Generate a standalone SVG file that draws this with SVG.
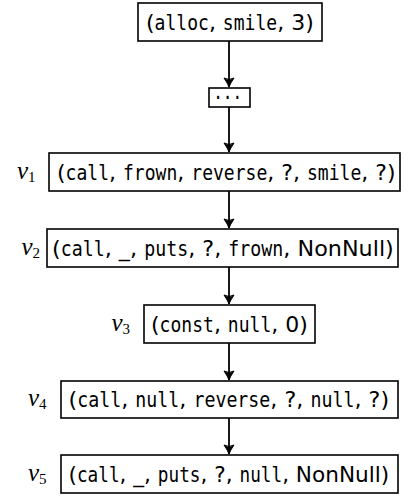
<svg xmlns="http://www.w3.org/2000/svg" width="409" height="498" viewBox="0 0 409 498">
<style>
.box{fill:#fff;stroke:#000;stroke-width:1.6}
.t{font-family:"DejaVu Sans","Liberation Sans",sans-serif;font-size:22px;fill:#000}
.tt{font-family:"DejaVu Sans Mono","Liberation Mono",monospace;font-size:22px;fill:#000}
.lab{font-family:"Liberation Serif","DejaVu Serif",serif;font-size:25px;font-style:italic;fill:#000}
.sub{font-style:normal;font-size:15px}
.edge{stroke:#000;stroke-width:1.8;fill:none;marker-end:url(#arr)}
</style>
<defs>
<marker id="arr" viewBox="-10 -6 11 12" refX="0" refY="0" markerWidth="11" markerHeight="12" markerUnits="userSpaceOnUse" orient="auto">
<path d="M-9,-5 Q-3.5,-1.2 0,0 Q-3.5,1.2 -9,5 Q-6,0 -9,-5 Z" fill="#000" stroke="#000" stroke-width="1" stroke-linejoin="round"/>
</marker>
</defs>
<g id="connectors">
<line class="edge" x1="229" y1="41" x2="229" y2="87"/>
<line class="edge" x1="229" y1="107" x2="229" y2="152"/>
<line class="edge" x1="229" y1="191" x2="229" y2="228"/>
<line class="edge" x1="229" y1="267" x2="229" y2="304"/>
<line class="edge" x1="229" y1="343" x2="229" y2="380"/>
<line class="edge" x1="229" y1="418" x2="229" y2="454"/>
</g>
<g id="n0">
<rect class="box" x="138" y="3" width="184" height="38"/>
<g transform="translate(146,29.5)">
<text class="t" x="0">(</text>
<text class="tt" transform="translate(8.58,0) scale(0.82,1)">alloc</text>
<text class="t" x="62.88">, </text>
<text class="tt" transform="translate(76.87,0) scale(0.82,1)">smile</text>
<text class="t" x="131.17">, 3)</text>
</g>
</g>
<g id="ndots">
<rect class="box" x="209" y="88" width="41" height="19"/>
<text class="tt" transform="translate(213.2,105) scale(0.73,1)">···</text>
</g>
<g id="v1">
<text class="lab" x="17" y="179">v<tspan class="sub" dy="3">1</tspan></text>
<rect class="box" x="49" y="153" width="351" height="38"/>
<g transform="translate(57,179.5)">
<text class="t" x="0">(</text>
<text class="tt" transform="translate(8.58,0) scale(0.82,1)">call</text>
<text class="t" x="52.02">, </text>
<text class="tt" transform="translate(66.01,0) scale(0.82,1)">frown</text>
<text class="t" x="120.31">, </text>
<text class="tt" transform="translate(134.3,0) scale(0.82,1)">reverse</text>
<text class="t" x="210.32">, ?, </text>
<text class="tt" transform="translate(249.99,0) scale(0.82,1)">smile</text>
<text class="t" x="304.29">, ?)</text>
</g>
</g>
<g id="v2">
<text class="lab" x="21.5" y="255">v<tspan class="sub" dy="3">2</tspan></text>
<rect class="box" x="47" y="229" width="351" height="38"/>
<g transform="translate(52,255.5) scale(1.013,1)">
<text class="t" x="0">(</text>
<text class="tt" transform="translate(8.58,0) scale(0.82,1)">call</text>
<text class="t" x="52.02">, _, </text>
<text class="tt" transform="translate(91,0) scale(0.82,1)">puts</text>
<text class="t" x="134.44">, ?, </text>
<text class="tt" transform="translate(174.11,0) scale(0.82,1)">frown</text>
<text class="t" x="228.41">, NonNull)</text>
</g>
</g>
<g id="v3">
<text class="lab" x="111.5" y="331">v<tspan class="sub" dy="3">3</tspan></text>
<rect class="box" x="144" y="305" width="171" height="38"/>
<g transform="translate(151,331.5)">
<text class="t" x="0">(</text>
<text class="tt" transform="translate(8.58,0) scale(0.82,1)">const</text>
<text class="t" x="62.88">, </text>
<text class="tt" transform="translate(76.87,0) scale(0.82,1)">null</text>
<text class="t" x="120.31">, 0)</text>
</g>
</g>
<g id="v4">
<text class="lab" x="28" y="406">v<tspan class="sub" dy="3">4</tspan></text>
<rect class="box" x="61" y="381" width="337" height="37"/>
<g transform="translate(68.5,407) scale(1.012,1)">
<text class="t" x="0">(</text>
<text class="tt" transform="translate(8.58,0) scale(0.82,1)">call</text>
<text class="t" x="52.02">, </text>
<text class="tt" transform="translate(66.01,0) scale(0.82,1)">null</text>
<text class="t" x="109.45">, </text>
<text class="tt" transform="translate(123.44,0) scale(0.82,1)">reverse</text>
<text class="t" x="199.46">, ?, </text>
<text class="tt" transform="translate(239.13,0) scale(0.82,1)">null</text>
<text class="t" x="282.57">, ?)</text>
</g>
</g>
<g id="v5">
<text class="lab" x="28" y="481">v<tspan class="sub" dy="3">5</tspan></text>
<rect class="box" x="61" y="455" width="337" height="38"/>
<g transform="translate(68.5,481.5) scale(0.982,1)">
<text class="t" x="0">(</text>
<text class="tt" transform="translate(8.58,0) scale(0.82,1)">call</text>
<text class="t" x="52.02">, _, </text>
<text class="tt" transform="translate(91,0) scale(0.82,1)">puts</text>
<text class="t" x="134.44">, ?, </text>
<text class="tt" transform="translate(174.11,0) scale(0.82,1)">null</text>
<text class="t" x="217.55">, NonNull)</text>
</g>
</g>
</svg>
